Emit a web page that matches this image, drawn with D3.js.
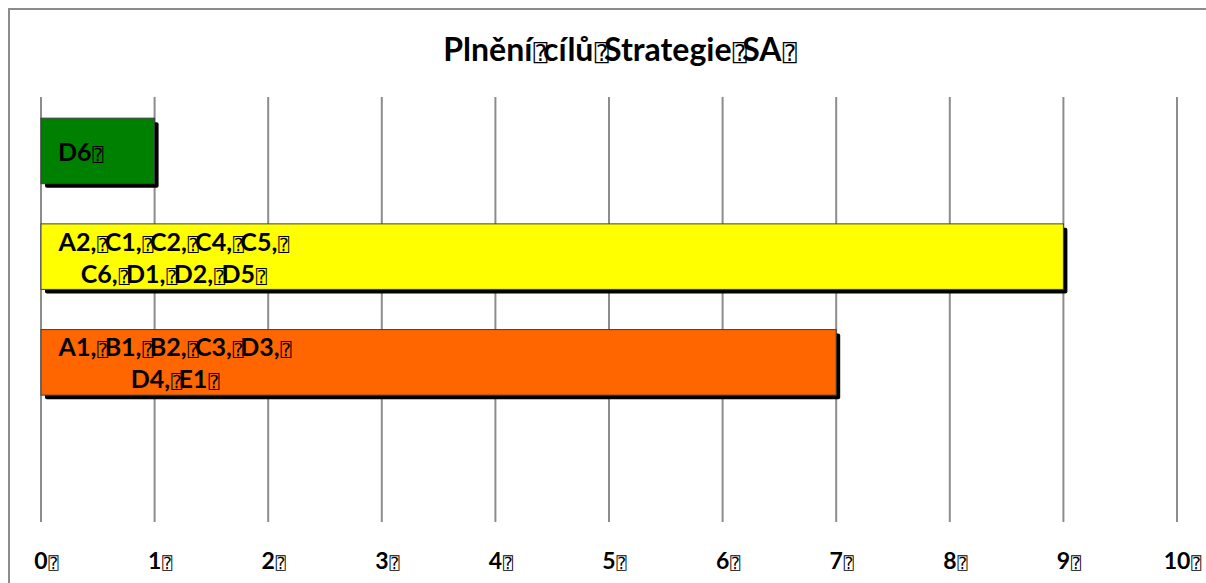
<!DOCTYPE html>
<html>
<head>
<meta charset="utf-8">
<script src="https://cdn.jsdelivr.net/npm/d3@7"></script>
<style>
  body { margin: 0; background: #fff; }
  text { font-family: Lato, "Open Sans", sans-serif; font-weight: bold; fill: #000; }
  .box { font-family: "DejaVu Sans Mono", "DejaVu Sans", sans-serif; font-weight: normal; }
</style>
</head>
<body>
<div id="chart"></div>
<script>
// "⍰" stands for the character that the original file could not draw
var chartTitle = "Plnění⍰cílů⍰Strategie⍰SA⍰";
var categories = ["zelená", "žlutá", "oranžová", "červená"];
var values = [1, 9, 7, 0];
var barLabels = [
    ["D6⍰"],
    ["A2,⍰C1,⍰C2,⍰C4,⍰C5,⍰", "C6,⍰D1,⍰D2,⍰D5⍰"],
    ["A1,⍰B1,⍰B2,⍰C3,⍰D3,⍰", "D4,⍰E1⍰"],
    []
];
var tickValues = [0, 1, 2, 3, 4, 5, 6, 7, 8, 9, 10];

var barColors = ["#008000", "#ffff00", "#ff6600", "#ff0000"];

var w = 1206, h = 583;
var svg = d3.select("#chart").append("svg").attr("width", w).attr("height", h);

// frame
svg.append("path").attr("d", "M9," + h + " V9 H" + (w + 2))
    .attr("fill", "none").attr("stroke", "#8c8c8c").attr("stroke-width", 2);

var x = d3.scaleLinear().domain([0, 10]).range([41, 1177]);
var y = d3.scaleBand().domain(categories).range([97, 522]).paddingInner(0.38).paddingOuter(0.2);

// writes text with the missing glyph boxes drawn smaller, like the source
function richText(sel, str, size) {
    var parts = str.split("⍰");
    parts.forEach(function (p, i) {
        if (p.length) {
            var t = sel.append("tspan").text(p).style("font-size", size + "px");
            if (i > 0) t.attr("dx", -size * 0.14);
        }
        if (i < parts.length - 1) {
            sel.append("tspan").attr("class", "box").text("⍰")
                .style("font-size", (size * 0.72) + "px")
                .attr("dx", size * 0.04);
        }
    });
}

// vertical grid
svg.append("g").selectAll("line").data(tickValues).enter().append("line")
    .attr("x1", function (d) { return x(d); }).attr("x2", function (d) { return x(d); })
    .attr("y1", 97).attr("y2", 522)
    .attr("stroke", "#8c8c8c").attr("stroke-width", 2);

// tick labels
svg.append("g").selectAll("text").data(tickValues).enter().append("text")
    .attr("y", 569)
    .each(function (d) {
        var t = d3.select(this);
        richText(t, d + "⍰", 23);
        var num = t.select("tspan").node().getComputedTextLength();
        t.attr("x", x(d) - num / 2);
    });

var bars = svg.append("g").selectAll("g").data(categories).enter().append("g")
    .filter(function (d, i) { return values[i] > 0; });

// shadow
bars.append("rect")
    .attr("x", x(0) + 4)
    .attr("y", function (d) { return y(d) + 4; })
    .attr("width", function (d) { return x(values[categories.indexOf(d)]) - x(0); })
    .attr("height", y.bandwidth())
    .attr("rx", 2)
    .attr("fill", "#000");

bars.append("rect")
    .attr("x", x(0))
    .attr("y", function (d) { return y(d); })
    .attr("width", function (d) { return x(values[categories.indexOf(d)]) - x(0); })
    .attr("height", y.bandwidth())
    .attr("fill", function (d) { return barColors[categories.indexOf(d)]; })
    .attr("stroke", "#404040").attr("stroke-width", 1);

// labels inside the bars, lines centred on each other
var lead = 32;
bars.each(function (d) {
    var i = categories.indexOf(d);
    var lines = barLabels[i];
    var g = d3.select(this).append("g");
    var y0 = y(d) + y.bandwidth() / 2 - (lines.length - 1) * lead / 2 + 10;
    lines.forEach(function (l, k) {
        var t = g.append("text").attr("text-anchor", "middle").attr("x", 0).attr("y", y0 + k * lead);
        richText(t, l, 25);
    });
    var bw = g.node().getBBox().width;
    g.attr("transform", "translate(" + (x(0) + 17 + bw / 2) + ",0)");
});

// title
var title = svg.append("text").attr("x", 620).attr("y", 61).attr("text-anchor", "middle");
richText(title, chartTitle, 32);
</script>
</body>
</html>
